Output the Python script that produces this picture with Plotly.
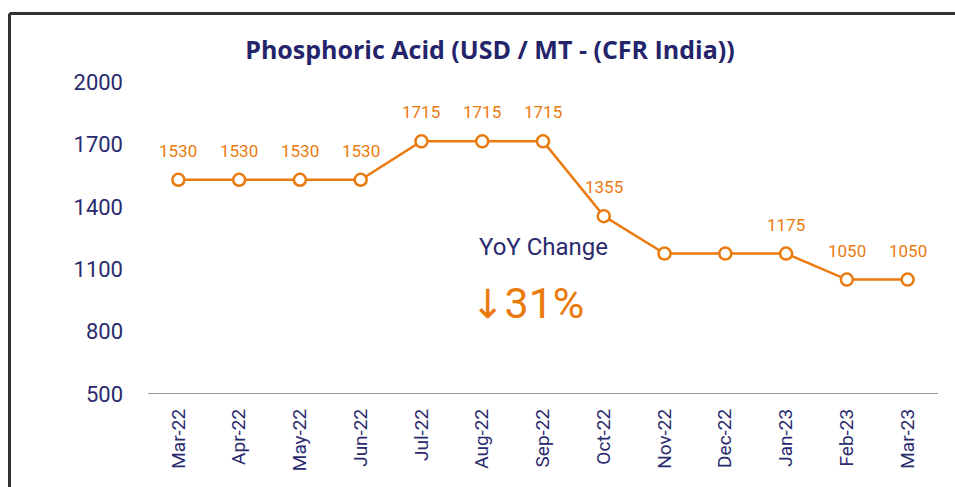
import plotly.graph_objects as go

months = ["Mar-22", "Apr-22", "May-22", "Jun-22", "Jul-22", "Aug-22", "Sep-22",
          "Oct-22", "Nov-22", "Dec-22", "Jan-23", "Feb-23", "Mar-23"]
prices = [1530, 1530, 1530, 1530, 1715, 1715, 1715, 1355, 1175, 1175, 1175, 1050, 1050]
labels = ["1530", "1530", "1530", "1530", "1715", "1715", "1715", "1355", "", "", "1175", "1050", "1050"]
y_ticks = [500, 800, 1100, 1400, 1700, 2000]

NAVY = "#2a2a6e"
ORANGE = "#ea7a0e"

fig = go.Figure()
fig.add_trace(go.Scatter(
    x=months, y=prices, mode="lines+markers",
    line=dict(color=ORANGE, width=2.5),
    marker=dict(size=12, color="white", line=dict(color=ORANGE, width=2.5)),
    cliponaxis=False, showlegend=False,
))

annotations = [
    dict(text=lab, x=m, y=p, xref="x", yref="y", yshift=29, showarrow=False,
         xanchor="center", yanchor="middle",
         font=dict(family="Roboto", size=17, color=ORANGE))
    for m, p, lab in zip(months, prices, labels) if lab
]
annotations += [
    dict(text="YoY Change", x=(543 - 148) / 790, y=(394 - 247) / 312,
         xref="paper", yref="paper", xanchor="center", yanchor="middle",
         showarrow=False, font=dict(family="Roboto", size=24, color=NAVY)),
    dict(text='<span style="font-family:DejaVu Sans;font-size:40px">↓</span>31%',
         x=(527 - 148) / 790, y=(394 - 303) / 312,
         xref="paper", yref="paper", xanchor="center", yanchor="middle",
         showarrow=False, font=dict(family="Roboto", size=43, color=ORANGE)),
]

fig.update_layout(
    width=955, height=487,
    margin=dict(l=148, r=17, t=82, b=93),
    paper_bgcolor="white", plot_bgcolor="white",
    title=dict(text="<b>Phosphoric Acid (USD / MT - (CFR India))</b>",
               x=490 / 955, xanchor="center", y=1 - 50 / 487, yanchor="middle",
               font=dict(family="Open Sans", size=25, color="#24246b")),
    xaxis=dict(type="category", range=[-0.5, 12.5], tickangle=-90,
               showgrid=False, showline=False, ticks="",
               tickfont=dict(family="Roboto", size=19, color=NAVY),
               ticklabelstandoff=10),
    yaxis=dict(range=[500, 2000], tickvals=y_ticks, showgrid=False,
               zeroline=False, showline=False, ticks="",
               tickfont=dict(family="Roboto", size=22, color=NAVY),
               ticklabelstandoff=24),
    annotations=annotations,
    shapes=[
        dict(type="line", xref="paper", yref="y", x0=0, x1=1, y0=500, y1=500,
             line=dict(color="#9a9a9a", width=2)),
        dict(type="line", xref="paper", yref="paper",
             x0=(9.5 - 148) / 790, x1=1.05, y0=(394 - 13.5) / 312, y1=(394 - 13.5) / 312,
             line=dict(color="#333333", width=3)),
        dict(type="line", xref="paper", yref="paper",
             x0=(9.5 - 148) / 790, x1=(9.5 - 148) / 790, y0=(394 - 13.5) / 312, y1=-0.4,
             line=dict(color="#333333", width=3)),
    ],
)

fig.write_html("out.html", config={"displayModeBar": False},
               post_script="document.body.style.margin='0';")
